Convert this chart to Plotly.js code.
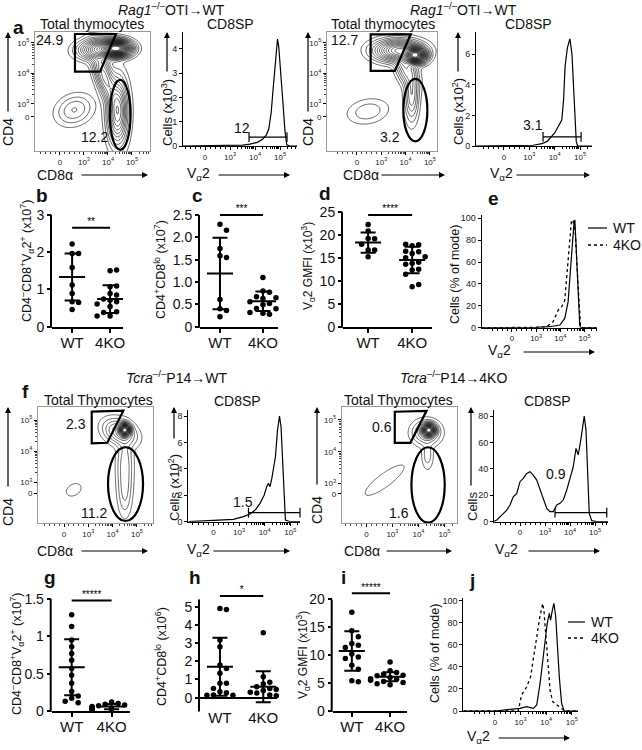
<!DOCTYPE html>
<html><head><meta charset="utf-8">
<script src="https://cdn.plot.ly/plotly-3.0.1.min.js"></script>
<style>html,body{margin:0;padding:0;background:#fff}#chart{width:642px;height:750px}</style>
</head><body><div id="chart"></div>
<script>
// ================= DATA =================
// flow axes in transformed units: 0 -> "0", 1 -> 10^3, 2 -> 10^4, 3 -> 10^5
const bioTicks = ['0','10<sup>3</sup>','10<sup>4</sup>','10<sup>5</sup>'];
const groups = ['WT','4KO'];

// --- panel a (left) CD4 vs CD8 populations (centre, spread, correlation, peak height)
const a1PopU   = [2.35, 1.7, 1.85, 2.4, 0.6];
const a1PopV   = [2.82, 2.8, 1.9, 0.75, 0.8];
const a1PopSU  = [0.3, 0.45, 0.28, 0.22, 0.4];
const a1PopSV  = [0.13, 0.17, 0.5, 0.55, 0.26];
const a1PopRho = [0, 0.1, -0.7, 0, 0.2];
const a1PopAmp = [1, 0.25, 0.12, 0.2, 0.03];
const a1GateU = [0.625, 2.333, 1.667, 0.625];
const a1GateV = [3.295, 3.295, 2.059, 2.059];
const a1Ellipse = [2.51, 0.64, 0.43, 1.15];
const a1Pct = ['24.9', '12.2'];
// --- panel a (right)
const a2PopU   = [2.4, 1.7, 2.0, 2.25, 0.45];
const a2PopV   = [2.6, 2.75, 2.2, 1.3, 0.75];
const a2PopSU  = [0.22, 0.5, 0.25, 0.15, 0.45];
const a2PopSV  = [0.13, 0.18, 0.35, 0.45, 0.22];
const a2PopRho = [0, 0, -0.5, 0, 0.2];
const a2PopAmp = [1, 0.28, 0.08, 0.06, 0.015];
const a2GateU = [0.564, 2.21, 1.56, 0.564];
const a2GateV = [3.285, 3.285, 2.082, 2.082];
const a2Ellipse = [2.4, 0.793, 0.494, 1.026];
const a2Pct = ['12.7', '3.2'];
// --- panel f (left)
const f1PopU   = [2.5, 2.3, 2.5, 2.5, 0.4];
const f1PopV   = [2.68, 2.6, 1.5, 0.6, 0.75];
const f1PopSU  = [0.12, 0.35, 0.18, 0.15, 0.3];
const f1PopSV  = [0.1, 0.22, 0.6, 0.4, 0.2];
const f1PopRho = [0, -0.3, 0, 0, 0.3];
const f1PopAmp = [1, 0.1, 0.04, 0.02, 0.006];
const f1GateU = [1.14, 2.44, 1.78, 1.14];
const f1GateV = [3.268, 3.3, 2.268, 2.248];
const f1Ellipse = [2.53, 0.935, 0.72, 1.19];
const f1Pct = ['2.3', '11.2'];
// --- panel f (right)
const f2PopU   = [2.4, 2.3, 2.35, 0.7];
const f2PopV   = [2.68, 2.6, 1.9, 1.1];
const f2PopSU  = [0.13, 0.28, 0.12, 0.5];
const f2PopSV  = [0.1, 0.2, 0.25, 0.32];
const f2PopRho = [0, 0, 0, 0.85];
const f2PopAmp = [1, 0.08, 0.02, 0.011];
const f2GateU = [1.09, 2.31, 1.69, 1.09];
const f2GateV = [3.26, 3.29, 2.28, 2.28];
const f2Ellipse = [2.37, 0.95, 0.64, 1.19];
const f2Pct = ['0.6', '1.6'];

// --- CD8SP Va2 histograms
const a1HistX = [-0.88,0,1,1.5,1.8,2.1,2.3,2.45,2.55,2.65,2.72,2.8,2.86,2.9,2.95,3.0,3.07,3.13,3.2,3.27,3.4,3.68];
const a1HistY = [0,0.01,0.02,0.04,0.08,0.15,0.28,0.45,0.7,1.4,2.3,3.4,4.2,4.41,4.1,3.3,2.4,1.6,0.6,0.05,0,0];
const a1Bar = [1.76, 3.28, 0.37]; const a1BarLabel = '12';
const a2HistX = [-1.1,0,1,1.15,1.5,1.7,2.0,2.15,2.28,2.35,2.41,2.5,2.6,2.68,2.75,2.8,2.85,2.9,3.47];
const a2HistY = [0,0.01,0.02,0.05,0.15,0.3,0.85,1.3,1.7,3.0,5.2,6.4,7.0,6.0,4.0,2.5,0.3,0,0];
const a2Bar = [1.54, 3.04, 0.59]; const a2BarLabel = '3.1';
const f1HistX = [-0.98,-0.26,0.26,0.78,1.17,1.43,1.63,1.82,1.98,2.08,2.15,2.21,2.28,2.34,2.42,2.5,2.58,2.64,2.71,2.76,2.81,3.0,3.38];
const f1HistY = [0,0.08,0.13,0.18,0.38,0.58,0.88,1.39,2.0,2.65,2.9,2.65,3.28,3.9,4.9,6.9,8.0,7.2,4.4,1.4,0.13,0,0];
const f1Bar = [1.37, 3.38, 0.68]; const f1BarLabel = '1.5';
const f2HistX = [-1.07,-0.93,-0.73,-0.53,-0.4,-0.27,-0.13,0,0.13,0.27,0.4,0.53,0.67,0.8,0.93,1.07,1.2,1.33,1.47,1.6,1.73,1.87,2.0,2.13,2.24,2.33,2.43,2.51,2.57,2.64,2.71,2.77,2.87,3.07,3.53];
const f2HistY = [0,1.3,5,8.8,12.6,18.9,21.5,30.3,32.8,36.6,37.9,35.3,31.5,24,16.4,10.1,7.6,7.6,12.6,13.9,16.4,24,32.8,41.6,55.5,50.5,61.8,71.9,80,69.4,39.1,6.3,0.8,0,0];
const f2Bar = [1.4, 3.47, 6.8]; const f2BarLabel = '0.9';

// --- overlays (% of mode)
const eWtX = [-1.25,0,1,1.57,1.98,2.18,2.32,2.42,2.5,2.57,2.6,2.66,2.73,2.8,2.85,3.5];
const eWtY = [0,0,0.3,0.9,2.4,8.5,23.8,54,82,97.6,98,69.5,30,2.4,0,0];
const eKoX = [-1.25,0,1,1.43,1.7,1.91,2.05,2.18,2.29,2.39,2.46,2.52,2.62,2.73,2.83,2.88,3.5];
const eKoY = [0,0,0.3,0.9,5.5,16,19,25,54,85,98.5,97.6,85,39,2.4,0,0];
const jWtX = [-1.23,0,0.98,1.24,1.5,1.63,1.76,1.86,1.95,2.04,2.12,2.17,2.24,2.3,2.37,2.43,2.51,2.6,2.7,3.25];
const jWtY = [0,0,2.4,3.9,2.4,5.4,25,43,61,79.5,88.5,82.5,91.5,97.6,85.5,61,31,7,0,0];
const jKoX = [-1.23,0,0.91,1.04,1.24,1.39,1.52,1.63,1.73,1.82,1.86,1.91,1.99,2.07,2.15,2.25,2.41,2.6,2.73,3.25];
const jKoY = [0,0,0,14.5,22,31,49,67,82.5,91.5,97.6,91.5,67,40,19,8.5,5.4,2.4,0,0];

// --- dot plots: individual mice, mean, SD, significance
const bWT = [2.22,1.96,1.96,1.59,1.12,0.89,0.67,0.65,0.46];
const bKO = [1.50,1.52,1.07,1.09,0.89,0.85,0.71,0.74,0.67,0.58,0.61,0.54,0.40,0.38,0.29,0.27,0.29];
const bMean = [1.33,0.74], bSD = [0.63,0.37], bSig = [2.65,'**'];
const cWT = [2.29,2.16,1.75,1.59,1.55,0.61,0.40,0.36,0.22];
const cKO = [1.10,0.80,0.77,0.67,0.63,0.65,0.52,0.56,0.49,0.41,0.40,0.43,0.30,0.28,0.32];
const cMean = [1.19,0.57], cSD = [0.8,0.22], cSig = [2.5,'***'];
const dWT = [22.2,20.8,19.2,19.1,17.9,16.7,16.7,15.2];
const dKO = [17.6,17.8,17.9,16.3,16.4,15.9,15.0,15.2,13.8,14.0,13.6,12.5,12.3,11.4,8.7,9.2];
const dMean = [18.3,14.5], dSD = [2.2,2.9], dSig = [24.3,'****'];
const gWT = [1.29,1.13,0.95,0.86,0.77,0.68,0.57,0.48,0.37,0.26,0.2,0.17,0.13,0.11];
const gKO = [0.12,0.10,0.09,0.08,0.07,0.06,0.06,0.05,0.05,0.04,0.03,0.03,0.02,0.02];
const gMean = [0.585,0.06], gSD = [0.375,0.035], gSig = [1.48,'*****'];
const hWT = [4.9,4.85,3.17,2.8,1.79,1.6,1.34,0.79,0.79,0.51,0.33,0.27,0.15,0.13,0.13];
const hKO = [3.57,1.15,0.85,0.75,0.6,0.5,0.45,0.4,0.3,0.25,0.2,0.15,0.1];
const hMean = [1.7,0.6], hSD = [1.6,0.85], hSig = [5.59,'*'];
const iWT = [17.7,14.4,13.3,12.1,11.8,11.4,10.2,9.7,9.4,8.2,7.5,5.4,5.25];
const iKO = [8.8,7.2,6.9,6.6,6.4,6.3,6.1,6.0,5.8,5.7,5.5,5.3,5.1,4.9,4.7];
const iMean = [10.75,6.15], iSD = [3.55,0.8], iSig = [21.1,'*****'];

// ================= BUILD =================
const W = 642, H = 750;
const FONT = 'Liberation Sans, Arial, Helvetica, sans-serif';
const layout = {width:W, height:H, margin:{l:0,r:0,t:0,b:0}, paper_bgcolor:'#fff', plot_bgcolor:'rgba(0,0,0,0)',
  showlegend:false, hovermode:false, font:{family:FONT, color:'#111', size:12}, shapes:[], annotations:[]};
const traces = [];
const ax = i => i === 1 ? '' : String(i);

const minorX = [];
[-0.8,-0.6,-0.4,-0.2,0.2,0.4,0.6,0.8].forEach(t => minorX.push(t));
for (let k = 1; k <= 3; k++) for (let m = 2; m <= 9; m++) if (k + Math.log10(m) < 3.7) minorX.push(k + Math.log10(m));
const minorY = [];
for (let k = 1; k <= 2; k++) for (let m = 2; m <= 9; m++) minorY.push(k + Math.log10(m));

function setAxes(i, box, xr, yr, xo, yo) {
  layout['xaxis'+ax(i)] = Object.assign({domain:[box[0]/W, box[1]/W], range:xr, anchor:'y'+ax(i), showgrid:false, zeroline:false, fixedrange:true, tickcolor:'#000'}, xo);
  layout['yaxis'+ax(i)] = Object.assign({domain:[1-box[3]/H, 1-box[2]/H], range:yr, anchor:'x'+ax(i), showgrid:false, zeroline:false, fixedrange:true, tickcolor:'#000'}, yo);
}
function pop(u,v,su,sv,rho,amp){ return {u,v,su,sv,rho,amp}; }
function densityGrid(p, xr, yr, n, gamma) {
  const xs = [], ys = [];
  for (let k = 0; k < n; k++) { xs.push(xr[0]+(xr[1]-xr[0])*k/(n-1)); ys.push(yr[0]+(yr[1]-yr[0])*k/(n-1)); }
  const z = ys.map(v => xs.map(u => {
    let d = 0;
    for (let q = 0; q < p.u.length; q++) {
      const a = (u-p.u[q])/p.su[q], b = (v-p.v[q])/p.sv[q], r = p.rho[q];
      d += p.amp[q]*Math.exp(-(a*a - 2*r*a*b + b*b)/(2*(1-r*r)));
    }
    return Math.pow(d, gamma);
  }));
  return {xs, ys, z};
}
function contourPanel(i, box, xr, yr, yZero, p, cfg, gU, gV, ell, pct, pctPos) {
  const common = {showline:true, mirror:true, linecolor:'#9a9a9a', linewidth:1, ticks:'outside', ticklen:3, tickmode:'array', tickfont:{size:8, color:'#222'}};
  setAxes(i, box, xr, yr,
    Object.assign({}, common, {tickvals:[0,1,2,3], ticktext:bioTicks, minor:{tickmode:'array', tickvals:minorX, ticks:'outside', ticklen:2, tickcolor:'#444'}}),
    Object.assign({}, common, {tickvals:[yZero,1,2,3], ticktext:bioTicks, minor:{tickmode:'array', tickvals:minorY, ticks:'outside', ticklen:2, tickcolor:'#444'}}));
  const g = densityGrid(p, xr, yr, 120, cfg.gamma);
  traces.push({type:'contour', x:g.xs, y:g.ys, z:g.z, xaxis:'x'+ax(i), yaxis:'y'+ax(i), autocontour:false,
    contours:{coloring:'none', start:cfg.start, end:1.0, size:cfg.size}, line:{color:'#000', width:0.6, smoothing:0.8}, showscale:false, hoverinfo:'skip'});
  const path = 'M ' + gU.map((u,k) => u + ',' + gV[k]).join(' L ') + ' Z';
  layout.shapes.push({type:'path', xref:'x'+ax(i), yref:'y'+ax(i), path, line:{color:'#000', width:2.2}});
  layout.shapes.push({type:'circle', xref:'x'+ax(i), yref:'y'+ax(i), x0:ell[0]-ell[2], x1:ell[0]+ell[2], y0:ell[1]-ell[3], y1:ell[1]+ell[3], line:{color:'#000', width:2.2}});
  pct.forEach((t,k) => layout.annotations.push({xref:'x'+ax(i), yref:'y'+ax(i), x:pctPos[k][0], y:pctPos[k][1], text:t, showarrow:false, font:{size:14}}));
}
function histPanel(i, box, xr, yr, yTicks) {
  setAxes(i, box, xr, yr,
    {showline:true, linecolor:'#000', linewidth:1, ticks:'outside', ticklen:3, tickmode:'array', tickvals:[0,1,2,3], ticktext:bioTicks, tickfont:{size:8, color:'#222'},
     minor:{tickmode:'array', tickvals:minorX, ticks:'outside', ticklen:2, tickcolor:'#000'}},
    {showline:true, linecolor:'#000', linewidth:1, ticks:'outside', ticklen:3, tickmode:'array', tickvals:yTicks, ticktext:yTicks.map(String), tickfont:{size:9, color:'#222'}});
}
function line(i, x, y, dash, w) {
  traces.push({type:'scatter', mode:'lines', x, y, xaxis:'x'+ax(i), yaxis:'y'+ax(i), line:{color:'#000', width:w||1.2, dash:dash||'solid'}, hoverinfo:'skip'});
}
function gateBar(i, bar, label, labelPos) {
  traces.push({type:'scatter', mode:'lines+markers', x:[bar[0],bar[1]], y:[bar[2],bar[2]], xaxis:'x'+ax(i), yaxis:'y'+ax(i),
    line:{color:'#000', width:1.2}, marker:{symbol:'line-ns-open', size:7, color:'#000', line:{width:1.2, color:'#000'}}, cliponaxis:false, hoverinfo:'skip'});
  layout.annotations.push({xref:'x'+ax(i), yref:'y'+ax(i), x:labelPos[0], y:labelPos[1], text:label, showarrow:false, font:{size:14}});
}
function swarm(vals, center, pxX, pxY, step) {
  const placed = [], xs = [];
  vals.forEach(v => {
    let off = 0;
    for (const c of [0,1,-1,2,-2,3,-3]) {
      const xo = c*step;
      if (placed.every(p => Math.hypot(p[0]-xo, (p[1]-v)*pxY) >= step*0.95)) { off = xo; break; }
      off = xo;
    }
    placed.push([off, v]); xs.push(center + off/pxX);
  });
  return xs;
}
function dotPanel(i, box, xr, yr, tv, tt, axisLo, axisTop, wt, ko, mean, sd, sig, zeroAxis) {
  const xa = 'x'+ax(i), ya = 'y'+ax(i);
  const pxX = (box[1]-box[0])/(xr[1]-xr[0]), pxY = (box[3]-box[2])/(yr[1]-yr[0]);
  setAxes(i, box, xr, yr,
    {showline:!zeroAxis, linewidth:2, linecolor:'#000', ticks:zeroAxis ? '' : 'outside', ticklen:4, tickwidth:2, tickmode:'array', tickvals:[0,1], ticktext:groups, tickfont:{size:15, color:'#111'}, ticklabelstandoff:-3},
    {showline:false, ticks:'outside', ticklen:4, tickwidth:2, tickmode:'array', tickvals:tv, ticktext:tt, tickfont:{size:14, color:'#111'}, zeroline:!!zeroAxis, zerolinewidth:2, zerolinecolor:'#000'});
  [wt, ko].forEach((vals, g) => traces.push({type:'scatter', mode:'markers', x:swarm(vals, g, pxX, pxY, 6.5), y:vals, xaxis:xa, yaxis:ya,
    marker:{size:5.5, color:'#000'}, cliponaxis:false, hoverinfo:'skip'}));
  const ex = [], ey = [];
  for (let g = 0; g < 2; g++) {
    const mw = 13/pxX, cw = 7.5/pxX, m = mean[g], s = sd[g];
    ex.push(g-mw, g+mw, null, g, g, null, g-cw, g+cw, null, g-cw, g+cw, null);
    ey.push(m, m, null, m-s, m+s, null, m+s, m+s, null, m-s, m-s, null);
  }
  traces.push({type:'scatter', mode:'lines', x:ex, y:ey, xaxis:xa, yaxis:ya, line:{color:'#000', width:2}, hoverinfo:'skip'});
  traces.push({type:'scatter', mode:'lines', x:[0,1], y:[sig[0],sig[0]], xaxis:xa, yaxis:ya, line:{color:'#000', width:2}, hoverinfo:'skip'});
  traces.push({type:'scatter', mode:'text', x:[0.5], y:[sig[0]], text:[sig[1]], textposition:'top center', textfont:{size:10, color:'#000'}, xaxis:xa, yaxis:ya, cliponaxis:false, hoverinfo:'skip'});
  const d0 = 1-box[3]/H, d1 = 1-box[2]/H;
  const toPaper = v => d0 + (v-yr[0])/(yr[1]-yr[0])*(d1-d0);
  layout.shapes.push({type:'line', xref:'paper', yref:'paper', x0:(box[0]-1)/W, x1:(box[0]-1)/W, y0:toPaper(axisLo)-1/H, y1:toPaper(axisTop), line:{color:'#000', width:2}});
}
function txt(s, x, y, size, o) {
  layout.annotations.push(Object.assign({xref:'paper', yref:'paper', x:x/W, y:1-y/H, text:s, showarrow:false, font:{size:size}, xanchor:'center', yanchor:'middle'}, o||{}));
}
function vtxt(s, x, y, size) { txt(s, x, y, size, {textangle:-90}); }
function arrow(x0, y0, x1, y1) {
  layout.annotations.push({xref:'paper', yref:'paper', x:x1/W, y:1-y1/H, ax:x0-x1, ay:y0-y1, axref:'pixel', ayref:'pixel', text:'',
    showarrow:true, arrowhead:2, arrowsize:1, arrowwidth:1.2, arrowcolor:'#000', standoff:0, startstandoff:0});
}

// ---- Row a
contourPanel(1, [35,150,32,151], [-1.04,3.75], [-0.55,3.36], 0.57,
  pop(a1PopU,a1PopV,a1PopSU,a1PopSV,a1PopRho,a1PopAmp), {gamma:0.5, start:0.05, size:0.04},
  a1GateU, a1GateV, a1Ellipse, a1Pct, [[-0.42,3.1],[1.42,-0.08]]);
histPanel(2, [183,297,32,146], [-0.88,3.68], [0,4.7], [0,1,2,3,4]);
line(2, a1HistX, a1HistY);
gateBar(2, a1Bar, a1BarLabel, [1.48,0.74]);
contourPanel(3, [327,437,32,151], [-1.23,3.29], [-0.55,3.36], 0.57,
  pop(a2PopU,a2PopV,a2PopSU,a2PopSV,a2PopRho,a2PopAmp), {gamma:0.5, start:0.05, size:0.04},
  a2GateU, a2GateV, a2Ellipse, a2Pct, [[-0.53,3.1],[1.36,-0.08]]);
histPanel(4, [476,592,32,146], [-1.1,3.47], [0,7.44], [0,2,4,6]);
line(4, a2HistX, a2HistY);
gateBar(4, a2Bar, a2BarLabel, [1.15,1.37]);

// ---- Row b-e
dotPanel(5, [52,123,214.8,326.7], [-0.53,1.34], [0,3.0], [0,1,2,3], ['0','1','2','3'], 0, 3, bWT, bKO, bMean, bSD, bSig);
dotPanel(6, [200,278,203.8,326.7], [-0.465,1.35], [0,2.75], [0,0.5,1,1.5,2,2.5], ['0','0.5','1.0','1.5','2.0','2.5'], 0, 2.5, cWT, cKO, cMean, cSD, cSig);
dotPanel(7, [343,432,204.8,326.7], [-0.57,1.45], [0,26.5], [0,5,10,15,20,25], ['0','5','10','15','20','25'], 0, 25, dWT, dKO, dMean, dSD, dSig);
histPanel(8, [481.7,596.7,215,327.7], [-1.25,3.5], [0,103], [0,20,40,60,80,100]);
line(8, eWtX, eWtY, 'solid', 1.2);
line(8, eKoX, eKoY, 'dot', 1.3);

// ---- Row f
contourPanel(9, [38,153,407,523], [-1.07,3.66], [-0.32,3.42], 0.645,
  pop(f1PopU,f1PopV,f1PopSU,f1PopSV,f1PopRho,f1PopAmp), {gamma:0.5, start:0.06, size:0.05},
  f1GateU, f1GateV, f1Ellipse, f1Pct, [[0.49,2.87],[1.23,0.0]]);
histPanel(10, [188.3,300,410,521.7], [-0.98,3.38], [0,8.46], [0,2,4,6,8]);
line(10, f1HistX, f1HistY);
gateBar(10, f1Bar, f1BarLabel, [1.16,1.52]);
contourPanel(11, [341.7,456.7,407,523], [-0.95,3.47], [-0.25,3.41], 0.67,
  pop(f2PopU,f2PopV,f2PopSU,f2PopSV,f2PopRho,f2PopAmp), {gamma:0.5, start:0.06, size:0.05},
  f2GateU, f2GateV, f2Ellipse, f2Pct, [[0.59,2.78],[1.24,0.07]]);
histPanel(12, [494,608,410,521.7], [-1.04,3.52], [0,84.6], [0,20,40,60,80]);
line(12, f2HistX, f2HistY);
gateBar(12, f2Bar, f2BarLabel, [1.44,36.1]);

// ---- Row g-j
dotPanel(13, [51.7,130,590,711], [-0.5,1.46], [0,1.62], [0,0.5,1,1.5], ['0','0.5','1','1.5'], 0, 1.5, gWT, gKO, gMean, gSD, gSig);
dotPanel(14, [200,276.7,586.7,710.4], [-0.46,1.31], [-0.7,6.1], [0,1,2,3,4,5], ['0','1','2','3','4','5'], -0.7, 5.4, hWT, hKO, hMean, hSD, hSig, true);
dotPanel(15, [332.7,407.3,579.9,711], [-0.5,1.45], [0,23.5], [0,5,10,15,20], ['0','5','10','15','20'], 0, 20, iWT, iKO, iMean, iSD, iSig);
histPanel(16, [463.3,578.3,597.5,711], [-1.23,3.25], [0,103], [0,20,40,60,80,100]);
line(16, jWtX, jWtY, 'solid', 1.2);
line(16, jKoX, jKoY, 'dot', 1.3);

// ---- Text: titles, axis labels, panel letters
const rag = '<i>Rag1</i><sup>–/–</sup>OTI→WT';
txt(rag, 172, 9, 14); txt(rag, 463, 9, 14);
txt('Total thymocytes', 92, 24, 14); txt('Total thymocytes', 383, 24, 14);
txt('CD8SP', 230, 24, 14); txt('CD8SP', 528, 24, 14);
txt('<i>Tcra</i><sup>–/–</sup>P14→WT', 177, 377, 14);
txt('<i>Tcra</i><sup>–/–</sup>P14→4KO', 453, 377, 14);
txt('Total Thymocytes', 98, 400, 14); txt('Total Thymocytes', 398, 400, 14);
txt('CD8SP', 237, 401, 14); txt('CD8SP', 547, 401, 14);

// CD4 (y) labels with arrows
[[8,132,113,32],[308,132,113,32],[8,512,488,407],[317,510,486,407]].forEach(p => { vtxt('CD4', p[0], p[1], 14); arrow(p[0], p[2], p[0], p[3]); });
// Cells labels
vtxt('Cells (x10<sup>3</sup>)', 167, 112, 13); arrow(167, 73, 167, 32);
vtxt('Cells (x10<sup>2</sup>)', 458, 112, 13); arrow(458, 73, 458, 32);
vtxt('Cells (x10<sup>2</sup>)', 174, 487, 13); arrow(174, 440, 174, 407);
vtxt('Cells', 472, 507, 13); arrow(471, 487, 471, 407);
// x labels with arrows
const va2 = 'V<sub>α</sub>2';
[[55,80,148,175],[361,380,445,175],[55,80,148,551],[362,385,452,551]].forEach(p => { txt('CD8α', p[0], p[3], 14); arrow(p[1], p[3], p[2], p[3]); });
[[198,217,290,175],[501,515,590,175],[499,522,595,352],[198,212,290,551],[506,527,600,551],[478,497,570,738]].forEach(p => { txt(va2, p[0], p[3]-1, 14); arrow(p[1], p[3], p[2], p[3]); });
// dot-plot y titles
const dpLab = 'CD4<sup>–</sup>CD8<sup>+</sup>V<sub>α</sub>2<sup>+</sup> (x10<sup>7</sup>)';
vtxt(dpLab, 27, 261, 12.5);
vtxt('CD4<sup>+</sup>CD8<sup>lo</sup> (x10<sup>7</sup>)', 160, 270, 12.5);
vtxt('V<sub>α</sub>2 GMFI (x10<sup>3</sup>)', 308, 266, 12);
vtxt('Cells (% of mode)', 455, 275, 12.5);
vtxt(dpLab, 17, 654, 12.5);
vtxt('CD4<sup>+</sup>CD8<sup>lo</sup> (x10<sup>6</sup>)', 161, 656, 12.5);
vtxt('V<sub>α</sub>2 GMFI (x10<sup>3</sup>)', 303, 655, 12);
vtxt('Cells (% of mode)', 435, 654, 12.5);
// legends (e, j)
function legend(x0, x1, yWT, yKO) {
  layout.shapes.push({type:'line', xref:'paper', yref:'paper', x0:x0/W, x1:x1/W, y0:1-yWT/H, y1:1-yWT/H, line:{color:'#000', width:1.2}});
  layout.shapes.push({type:'line', xref:'paper', yref:'paper', x0:x0/W, x1:x1/W, y0:1-yKO/H, y1:1-yKO/H, line:{color:'#000', width:1.3, dash:'dot'}});
  txt('WT', x1+4, yWT, 14, {xanchor:'left'}); txt('4KO', x1+4, yKO, 14, {xanchor:'left'});
}
legend(588, 607, 228, 245);
legend(568, 585, 622, 638);
// panel letters
[['a',18,27],['b',42,195],['c',197,195],['d',325,193],['e',493,198],['f',25,392],['g',50,577],['h',195,577],['i',343,577],['j',472,580]]
  .forEach(p => txt('<b>' + p[0] + '</b>', p[1], p[2], 19));

Plotly.newPlot('chart', traces, layout, {staticPlot:true, displayModeBar:false});
</script>
</body></html>
